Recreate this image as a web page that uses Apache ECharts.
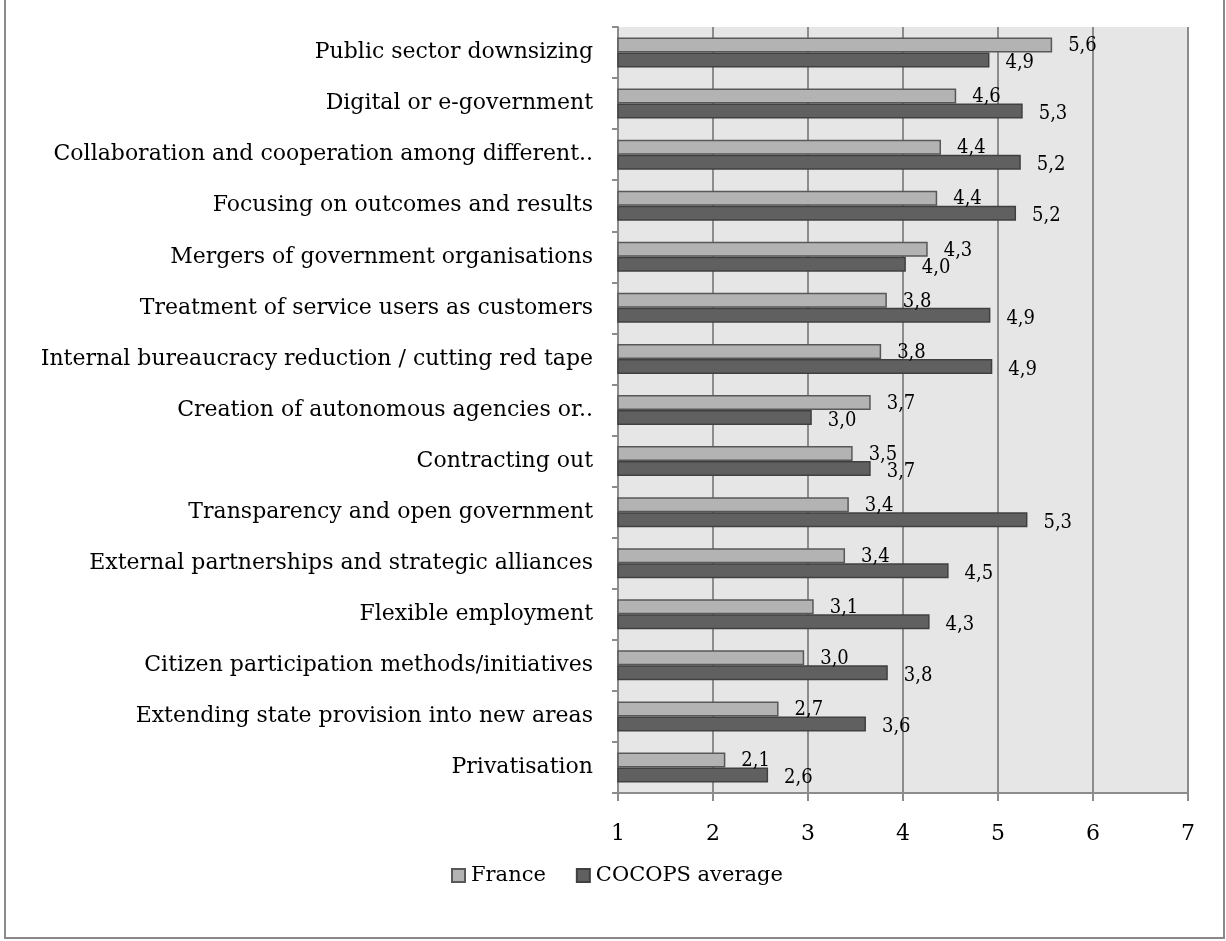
<!DOCTYPE html>
<html>
<head>
<meta charset="utf-8">
<script src="https://cdn.jsdelivr.net/npm/echarts@6/dist/echarts.min.js"></script>
<style>
html,body{margin:0;padding:0;background:#fff;}
#chart{width:1226px;height:941px;}
</style>
</head>
<body>
<div id="chart"></div>
<script>
const categories = [
  "Public sector downsizing",
  "Digital or e-government",
  "Collaboration and cooperation among different..",
  "Focusing on outcomes and results",
  "Mergers of government organisations",
  "Treatment of service users as customers",
  "Internal bureaucracy reduction / cutting red tape",
  "Creation of autonomous agencies or..",
  "Contracting out",
  "Transparency and open government",
  "External partnerships and strategic alliances",
  "Flexible employment",
  "Citizen participation methods/initiatives",
  "Extending state provision into new areas",
  "Privatisation"
];
const france = [5.57, 4.56, 4.40, 4.36, 4.26, 3.83, 3.77, 3.66, 3.47, 3.43, 3.39, 3.06, 2.96, 2.69, 2.13];
const cocops = [4.91, 5.26, 5.24, 5.19, 4.03, 4.92, 4.94, 3.04, 3.66, 5.31, 4.48, 4.28, 3.84, 3.61, 2.58];
const xTicks = [1, 2, 3, 4, 5, 6, 7];

const FONT = "DejaVu Serif";
const LFONT = "'DejaVu Serif Condensed', 'DejaVu Serif'";
const chart = echarts.init(document.getElementById('chart'));
const fmt = p => p.value.toFixed(1).replace('.', ',');

chart.setOption({
  animation: false,
  backgroundColor: '#ffffff',
  graphic: [{
    type: 'rect',
    shape: {x: 5, y: -10, width: 1219, height: 948},
    style: {fill: 'none', stroke: '#8a8a8a', lineWidth: 2},
    silent: true
  }],
  grid: {
    left: 618, right: 38, top: 27, bottom: 148,
    show: true, backgroundColor: '#e6e6e6', borderWidth: 0
  },
  legend: {
    bottom: 50,
    left: 446,
    itemWidth: 13, itemHeight: 13, itemGap: 30,
    icon: 'rect',
    textStyle: {fontFamily: FONT, fontSize: 21, color: '#000', padding: [0, 0, 0, 1]},
    data: ['France', 'COCOPS average']
  },
  xAxis: {
    type: 'value',
    min: xTicks[0], max: xTicks[xTicks.length - 1], interval: 1,
    axisLine: {show: true, lineStyle: {color: '#8c8c8c', width: 2}},
    axisTick: {show: true, length: 8, lineStyle: {color: '#8c8c8c', width: 2}},
    splitLine: {show: true, lineStyle: {color: '#8c8c8c', width: 2}},
    axisLabel: {fontFamily: FONT, fontSize: 22, color: '#000', margin: 30}
  },
  yAxis: {
    type: 'category',
    data: categories,
    inverse: true,
    axisLine: {show: true, lineStyle: {color: '#8c8c8c', width: 2}},
    axisTick: {show: true, length: 6, lineStyle: {color: '#8c8c8c', width: 2}},
    axisLabel: {fontFamily: FONT, fontSize: 22, color: '#000', margin: 25}
  },
  series: [
    {
      name: 'France', type: 'bar', data: france,
      barWidth: 15, barGap: '0%',
      itemStyle: {color: '#b3b3b3', borderColor: '#585858', borderWidth: 1.5},
      label: {show: true, position: 'right', distance: 16, formatter: fmt,
        fontFamily: LFONT, fontSize: 20, color: '#000', offset: [0, 1]}
    },
    {
      name: 'COCOPS average', type: 'bar', data: cocops,
      barWidth: 15, barGap: '0%',
      itemStyle: {color: '#606060', borderColor: '#404040', borderWidth: 1.5},
      label: {show: true, position: 'right', distance: 16, formatter: fmt,
        fontFamily: LFONT, fontSize: 20, color: '#000', offset: [0, 3]}
    }
  ]
});
</script>
</body>
</html>
